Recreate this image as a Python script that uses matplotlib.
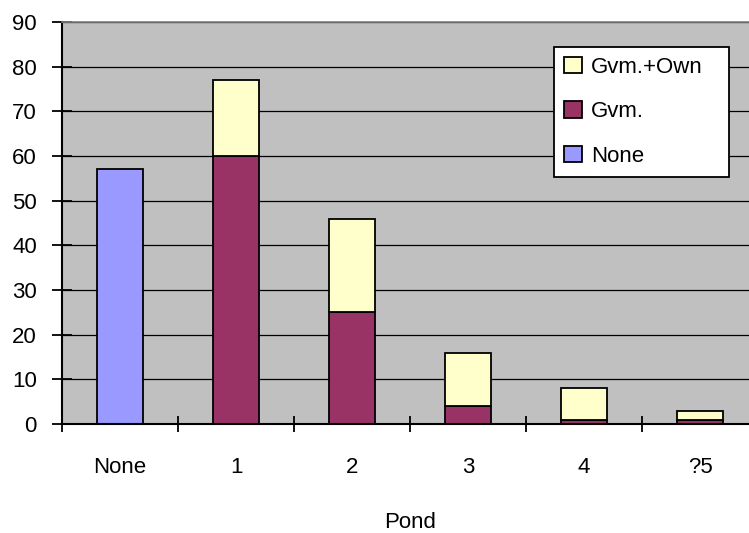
import matplotlib.pyplot as plt
import numpy as np

plt.rcParams['font.family'] = ['Liberation Sans', 'DejaVu Sans']

categories = ["None", "1", "2", "3", "4", "?5"]
none_vals = [57, 0, 0, 0, 0, 0]
gvm_vals = [0, 60, 25, 4, 1, 1]
own_vals = [0, 17, 21, 12, 7, 2]

c_none = "#9999FF"
c_gvm = "#993366"
c_own = "#FFFFCC"
fs = 16

fig = plt.figure(figsize=(7.49, 5.33), dpi=100)
ax = fig.add_axes([62 / 749, (533 - 424) / 533, 696 / 749, 402 / 533])
ax.set_facecolor("#C0C0C0")

x = np.arange(len(categories))
w = 0.4
kw = dict(width=w, edgecolor="black", linewidth=1.3, zorder=3)

none_arr = np.array(none_vals)
gvm_arr = np.array(gvm_vals)
own_arr = np.array(own_vals)
m = none_arr > 0
ax.bar(x[m], none_arr[m], color=c_none, label="None", **kw)
m = gvm_arr > 0
ax.bar(x[m], gvm_arr[m], color=c_gvm, label="Gvm.", **kw)
m = own_arr > 0
ax.bar(x[m], own_arr[m], bottom=gvm_arr[m], color=c_own, label="Gvm.+Own", **kw)

ax.set_xlim(-0.5, 5.5)
ax.set_ylim(0, 90)
ax.set_yticks(range(0, 91, 10))
ax.set_xticks(np.arange(-0.5, 5.5, 1.0))
ax.set_xticklabels([])
ax.set_xticks(x, minor=True)
ax.set_xticklabels(categories, minor=True, fontsize=fs)
ax.tick_params(axis="x", which="minor", length=0, pad=24)
ax.tick_params(axis="x", which="major", direction="inout", length=12, width=1.3)
ax.tick_params(axis="y", direction="inout", length=14, width=1.3, labelsize=fs, pad=11)

ax.yaxis.grid(True, color="black", linewidth=0.9, zorder=1)
ax.set_axisbelow(True)

ax.spines["top"].set_color("#808080")
ax.spines["top"].set_linewidth(1.2)
ax.spines["right"].set_visible(False)
ax.spines["left"].set_linewidth(1.5)
ax.spines["bottom"].set_linewidth(1.5)
ax.spines["bottom"].set_zorder(4)

ax.set_xlabel("Pond", fontsize=fs, labelpad=24)

# legend box spans the same area as in the original (x 554-729, y 47-175 px)
handles, labels = ax.get_legend_handles_labels()
leg = ax.legend(handles[::-1], labels[::-1], loc="upper left", mode="expand",
                bbox_to_anchor=(0.707, 0.62, 0.251, 0.318), fontsize=fs,
                frameon=True, fancybox=False, edgecolor="black", framealpha=1,
                handlelength=0.8, handleheight=0.75, handletextpad=0.4,
                labelspacing=1.05, borderpad=0.45, borderaxespad=0)
leg.get_frame().set_linewidth(1.3)
for h in leg.legend_handles:
    h.set_linewidth(1.3)

fig.savefig("out.png", dpi=100)
